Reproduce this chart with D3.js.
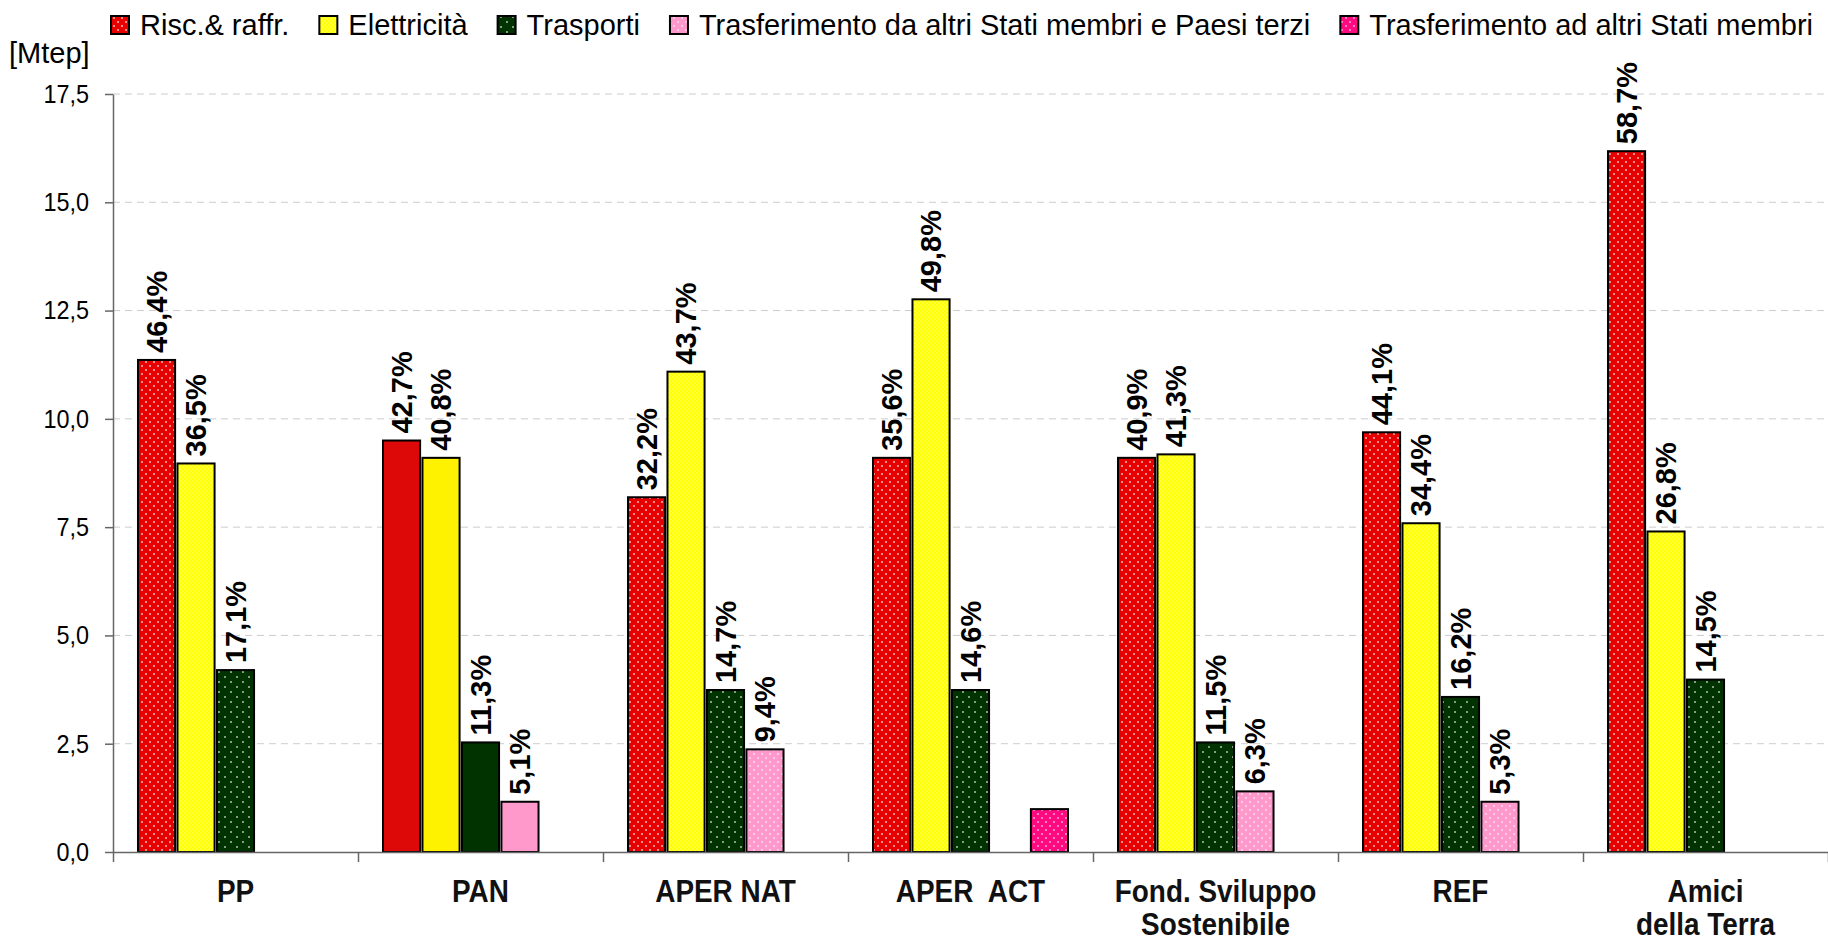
<html>
<head>
  <script src="https://cdn.jsdelivr.net/npm/d3@7/dist/d3.min.js"></script>
</head>
<style>
  body { margin: 0; background: #fff; }
  text { font-family: "Liberation Sans", Arial, sans-serif; }
</style>
<body>
  <svg id="chart"></svg>
  <script type="text/javascript">
    // categories and series (Mtep)
    var categories = ["PP", "PAN", "APER NAT", "APER  ACT", "Fond. Sviluppo\nSostenibile", "REF", "Amici\ndella Terra"];
    var seriesNames = ["Risc.& raffr.", "Elettricità", "Trasporti", "Trasferimento da altri Stati membri e Paesi terzi", "Trasferimento ad altri Stati membri"];
    var risc    = [11.36, 9.50, 8.19, 9.10, 9.10, 9.69, 16.18];
    var elett   = [8.97, 9.10, 11.09, 12.76, 9.18, 7.59, 7.40];
    var trasp   = [4.20, 2.53, 3.74, 3.74, 2.53, 3.58, 3.98];
    var trasfDa = [null, 1.16, 2.37, null, 1.40, 1.16, null];
    var trasfAd = [null, null, null, 0.99, null, null, null];
    // percentage labels shown above bars
    var riscLab    = ["46,4%", "42,7%", "32,2%", "35,6%", "40,9%", "44,1%", "58,7%"];
    var elettLab   = ["36,5%", "40,8%", "43,7%", "49,8%", "41,3%", "34,4%", "26,8%"];
    var traspLab   = ["17,1%", "11,3%", "14,7%", "14,6%", "11,5%", "16,2%", "14,5%"];
    var trasfDaLab = [null, "5,1%", "9,4%", null, "6,3%", "5,3%", null];
    var trasfAdLab = [null, null, null, null, null, null, null];
    var yTicks = [0, 2.5, 5, 7.5, 10, 12.5, 15, 17.5];
    var solidGroups = ["PAN"];

    var values = [risc, elett, trasp, trasfDa, trasfAd];
    var labels = [riscLab, elettLab, traspLab, trasfDaLab, trasfAdLab];
    var colors = ["#e60000", "#ffff00", "#003300", "#ff99cc", "#ff0a80"];
    var solidColors = ["#dd0808", "#fff200", "#003300", "#ff99cc", "#ff0a80"];

    var W = 1828, H = 941;
    var svg = d3.select("#chart").attr("width", W).attr("height", H);

    // dotted fill patterns
    var defs = svg.append("defs");
    var pat = [
      {w: 8, h: 8, dots: [[2, 2], [6, 6]], s: 1.6, o: 0.85},
      {w: 4, h: 4, dots: [[1, 1], [3, 3]], s: 1.2, o: 0.6},
      {w: 12, h: 10, dots: [[3, 2], [9, 7]], s: 1.6, o: 0.8},
      {w: 8, h: 8, dots: [[2, 2], [6, 6]], s: 1.6, o: 0.75},
      {w: 8, h: 8, dots: [[2, 2], [6, 6]], s: 1.6, o: 0.75}
    ];
    pat.forEach(function(p, i) {
      var g = defs.append("pattern")
        .attr("id", "pat" + i)
        .attr("patternUnits", "userSpaceOnUse")
        .attr("width", p.w).attr("height", p.h);
      g.append("rect").attr("width", p.w).attr("height", p.h).attr("fill", colors[i]);
      p.dots.forEach(function(d) {
        g.append("rect").attr("x", d[0] - p.s / 2).attr("y", d[1] - p.s / 2)
          .attr("width", p.s).attr("height", p.s)
          .attr("fill", "#fff").attr("fill-opacity", p.o);
      });
    });

    var x = d3.scaleBand().domain(categories).range([113, 1828]);
    var xs = d3.scaleBand().domain(d3.range(5)).range([25, x.bandwidth() - 25]).paddingInner(0.06);
    var y = d3.scaleLinear().domain([0, 17.5]).range([852, 94]);

    var locale = d3.formatLocale({decimal: ",", thousands: ".", grouping: [3], currency: ["", "€"]});
    var f = locale.format(".1f");

    // gridlines
    svg.append("g").selectAll("line")
      .data(yTicks.slice(1))
      .enter().append("line")
      .attr("x1", 113).attr("x2", W)
      .attr("y1", function(d) { return y(d); })
      .attr("y2", function(d) { return y(d); })
      .attr("stroke", "#cccccc")
      .attr("stroke-dasharray", "7,5");

    // bars
    categories.forEach(function(c, ci) {
      var solid = solidGroups.indexOf(c) >= 0;
      values.forEach(function(arr, si) {
        var v = arr[ci];
        if (v == null) return;
        svg.append("rect")
          .attr("x", x(c) + xs(si))
          .attr("y", y(v))
          .attr("width", xs.bandwidth())
          .attr("height", y(0) - y(v))
          .attr("fill", solid ? solidColors[si] : "url(#pat" + si + ")")
          .attr("stroke", "#000")
          .attr("stroke-width", 2);
        var lab = labels[si][ci];
        if (lab) {
          var cx = x(c) + xs(si) + xs.bandwidth() / 2 + 10;
          svg.append("text")
            .attr("transform", "translate(" + cx + "," + (y(v) - 7) + ") rotate(-90)")
            .attr("font-size", 29)
            .attr("font-weight", "bold")
            .attr("text-anchor", "start")
            .text(lab);
        }
      });
    });

    // y axis
    var yAxis = d3.axisLeft(y).tickValues(yTicks).tickFormat(f).tickSize(8).tickSizeOuter(0);
    var ya = svg.append("g").attr("transform", "translate(113,0)").call(yAxis);
    ya.select(".domain").attr("stroke", "#666").attr("stroke-width", 1.5);
    ya.selectAll(".tick line").attr("stroke", "#666").attr("stroke-width", 1.5);
    ya.selectAll(".tick text")
      .attr("font-size", 26)
      .attr("font-family", "Liberation Sans, Arial, sans-serif")
      .attr("fill", "#000")
      .attr("x", -24 / 0.9)
      .attr("transform", "scale(0.9,1)");

    // x axis (ticks at category boundaries)
    var xb = d3.scaleLinear().domain([0, categories.length]).range(x.range());
    var xAxis = d3.axisBottom(xb).tickValues(d3.range(categories.length + 1)).tickFormat("").tickSize(10).tickSizeOuter(0);
    var xa = svg.append("g").attr("transform", "translate(0,852)").call(xAxis);
    xa.select(".domain").attr("stroke", "#666").attr("stroke-width", 1.5);
    xa.selectAll(".tick line").attr("stroke", "#666").attr("stroke-width", 1.5);

    // category labels
    categories.forEach(function(c) {
      var lines = c.split("\n");
      var cx = x(c) + x.bandwidth() / 2;
      lines.forEach(function(l, li) {
        svg.append("text")
          .attr("transform", "translate(" + cx + "," + (902 + li * 33) + ") scale(0.9,1)")
          .attr("text-anchor", "middle")
          .attr("font-size", 31)
          .attr("font-weight", "bold")
          .attr("fill", "#111")
          .style("white-space", "pre")
          .text(l);
      });
    });

    // y unit
    svg.append("text")
      .attr("x", 9).attr("y", 63)
      .attr("font-size", 29)
      .text("[Mtep]");

    // legend
    var lx = 111;
    seriesNames.forEach(function(n, i) {
      svg.append("rect")
        .attr("x", lx).attr("y", 16)
        .attr("width", 18).attr("height", 18)
        .attr("fill", "url(#pat" + i + ")")
        .attr("stroke", "#000").attr("stroke-width", 2);
      var t = svg.append("text")
        .attr("x", lx + 29).attr("y", 35)
        .attr("font-size", 29)
        .text(n);
      lx += 29 + t.node().getComputedTextLength() + 30;
    });
  </script>
</body>
</html>
